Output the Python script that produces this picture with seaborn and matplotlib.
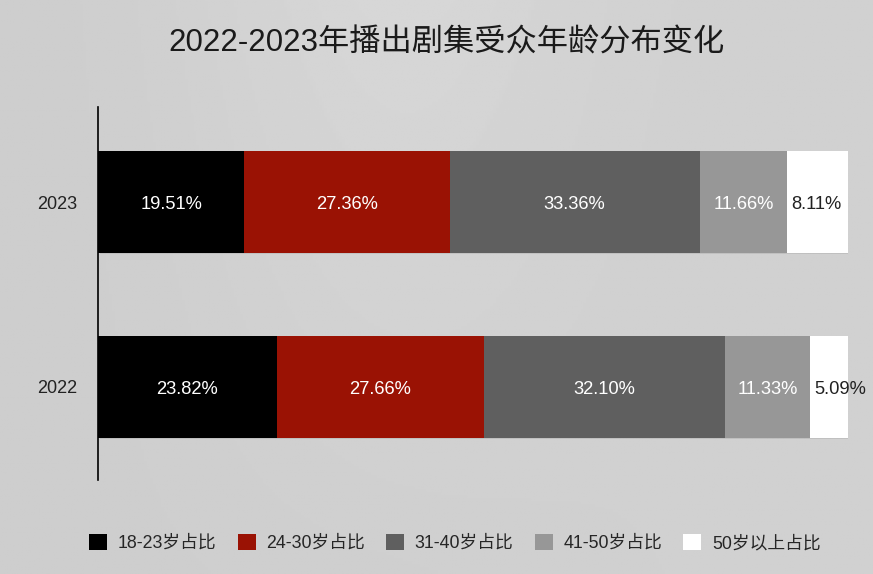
import numpy as np
import pandas as pd
import matplotlib
matplotlib.use("Agg")
import matplotlib.pyplot as plt
import seaborn as sns
from matplotlib.patches import Patch
import matplotlib.patheffects as pe

years = ["2023", "2022"]
series = ["18-23岁占比", "24-30岁占比", "31-40岁占比", "41-50岁占比", "50岁以上占比"]
v_18_23 = [19.51, 23.82]
v_24_30 = [27.36, 27.66]
v_31_40 = [33.36, 32.10]
v_41_50 = [11.66, 11.33]
v_50_up = [8.11, 5.09]
colors = ["#000000", "#9a1204", "#5f5f5f", "#979797", "#ffffff"]
label_colors = ["white", "white", "white", "white", "#222222"]
title = "2022-2023年播出剧集受众年龄分布变化"

sns.set_theme(style="white")
fam = ["Liberation Sans", "Noto Sans CJK SC", "DejaVu Sans"]
plt.rcParams["font.family"] = fam

values = np.array([v_18_23, v_24_30, v_31_40, v_41_50, v_50_up])
cum = np.cumsum(values, axis=0)

fig = plt.figure(figsize=(8.73, 5.74), dpi=100)
bg = fig.add_axes([0, 0, 1, 1], zorder=-10)
gx = np.linspace(0, 1, 300)
gy = np.linspace(0, 1, 200)
X, Y = np.meshgrid(gx, gy)
grad = 0.805 + 0.03 * np.exp(-((X - 0.45) ** 2) / 0.05) * (1 - Y) + 0.015 * X
bg.imshow(grad, cmap="gray", vmin=0, vmax=1, aspect="auto", extent=[0, 1, 0, 1])
bg.set_axis_off()
fig.patch.set_facecolor("#cfd0d2")

ax = fig.add_axes([98 / 873, 1 - 480 / 574, 750 / 873, 373 / 574])
ax.set_facecolor("none")

for i in reversed(range(len(series))):
    df = pd.DataFrame({"year": years, "v": cum[i]})
    sns.barplot(data=df, x="v", y="year", color=colors[i], orient="h",
                width=0.55, ax=ax, saturation=1, edgecolor="none", linewidth=0)

# soft shadow on full bars
for p in ax.patches[:2]:
    p.set_path_effects([pe.SimplePatchShadow(offset=(1.5, -1), shadow_rgbFace="black", alpha=0.08), pe.Normal()])

last = len(series) - 1
for i in range(len(series)):
    for j, y in enumerate(years):
        yy = j + 0.012
        if i == last:
            start = cum[i][j] - values[i][j]
            ax.text(start + 0.55, yy, f"{values[i][j]:.2f}%", ha="left", va="center",
                    color=label_colors[i], fontsize=13.2, family=fam)
        else:
            center = cum[i][j] - values[i][j] / 2
            ax.text(center, yy, f"{values[i][j]:.2f}%", ha="center", va="center",
                    color=label_colors[i], fontsize=13.2, family=fam)

ax.set_xlim(0, 100)
ax.set_ylim(1.503, -0.514)
ax.set_xlabel("")
ax.set_ylabel("")
ax.set_xticks([])
for s in ["top", "right", "bottom"]:
    ax.spines[s].set_visible(False)
ax.spines["left"].set_color("black")
ax.spines["left"].set_linewidth(1.2)
ax.tick_params(axis="y", length=0, pad=15, labelsize=13, labelcolor="#222222")

fig.text(447 / 873, 1 - 44 / 574, title, ha="center", va="center", fontsize=22.5,
         color="#1a1a1a", family=fam)

handles = [Patch(facecolor=c, edgecolor="none") for c in colors]
fig.legend(handles, series, loc="center", bbox_to_anchor=(455 / 873, 1 - 543 / 574),
           ncol=5, frameon=False, handlelength=1.0, handleheight=1.0,
           handletextpad=0.6, columnspacing=1.2, prop={"family": fam, "size": 12.8})

fig.savefig("out.png", dpi=100, facecolor=fig.get_facecolor())
